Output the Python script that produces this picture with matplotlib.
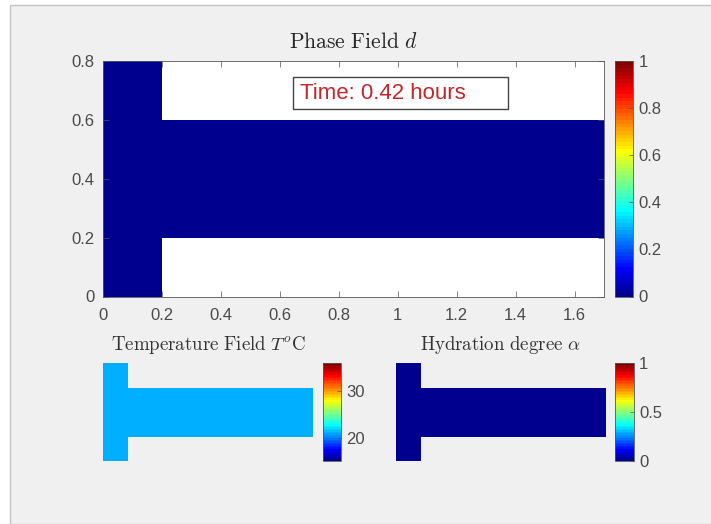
import numpy as np
import matplotlib
matplotlib.use('Agg')
from matplotlib import pyplot as plt
from matplotlib.colors import ListedColormap
from matplotlib.patches import Rectangle

# T-shaped domain: flange 0-0.2, web 0.2-1.7 between y=0.2 and 0.6
x_edges = [0.0, 0.2, 1.7]
y_edges = [0.0, 0.2, 0.6, 0.8]
nan = np.nan
phase_d = [[0.0, nan],
           [0.0, 0.0],
           [0.0, nan]]
temperature = [[21.0, nan],
               [21.0, 21.0],
               [21.0, nan]]
hydration = [[0.0, nan],
             [0.0, 0.0],
             [0.0, nan]]

d_ticks = [0, 0.2, 0.4, 0.6, 0.8, 1]
T_lim = (15, 36)
T_ticks = [20, 30]
a_ticks = [0, 0.5, 1]
x_ticks = [0, 0.2, 0.4, 0.6, 0.8, 1, 1.2, 1.4, 1.6]
y_ticks = [0, 0.2, 0.4, 0.6, 0.8]
time_hours = 0.42


def matlab_jet(m=64):
    n = int(np.ceil(m / 4))
    u = np.concatenate([np.arange(1, n + 1) / n, np.ones(n - 1), np.arange(n, 0, -1) / n])
    g = int(np.ceil(n / 2)) - int(m % 4 == 1) + np.arange(1, len(u) + 1)
    r = g + n
    b = g - n
    J = np.zeros((m, 3))
    J[r[r <= m] - 1, 0] = u[r <= m]
    J[g[g <= m] - 1, 1] = u[g <= m]
    J[b[b >= 1] - 1, 2] = u[b >= 1]
    return ListedColormap(J)


cmap = matlab_jet(64)
plt.rcParams['font.family'] = ['Liberation Sans', 'DejaVu Sans']
plt.rcParams['mathtext.fontset'] = 'cm'
tick_col = '#4a4a4a'
edge_col = '#555555'

W, H = 711, 524
fig = plt.figure(figsize=(W / 100, H / 100), dpi=100, facecolor='white')
fig.patches.append(Rectangle((10 / W, 0), 1, (H - 5) / H, transform=fig.transFigure,
                             facecolor='#f0f0f0', edgecolor='#c4c4c4', linewidth=1, zorder=-1))


def box(x0, y0, x1, y1):
    # pixel box (top-left origin) -> figure fraction
    return [x0 / W, (H - y1) / H, (x1 - x0) / W, (y1 - y0) / H]


def field(ax, vals, vmin, vmax):
    return ax.pcolormesh(x_edges, y_edges, np.ma.masked_invalid(np.array(vals)),
                         cmap=cmap, vmin=vmin, vmax=vmax, linewidth=0, antialiased=False)


def style_cbar(cax, mappable, ticks, labels):
    cb = fig.colorbar(mappable, cax=cax, ticks=ticks)
    cb.ax.set_yticklabels(labels)
    cb.outline.set_edgecolor(edge_col)
    cb.outline.set_linewidth(0.6)
    cb.ax.tick_params(direction='in', length=3, width=0.5, color=edge_col,
                      labelsize=12, labelcolor=tick_col, pad=4)
    return cb


# main phase field plot
ax = fig.add_axes(box(103, 61, 604, 296.5))
m = field(ax, phase_d, 0, 1)
ax.set_xlim(0, 1.7)
ax.set_ylim(0, 0.8)
ax.set_xticks(x_ticks)
ax.set_xticklabels(['0', '0.2', '0.4', '0.6', '0.8', '1', '1.2', '1.4', '1.6'])
ax.set_yticks(y_ticks)
ax.set_yticklabels(['0', '0.2', '0.4', '0.6', '0.8'])
ax.tick_params(direction='in', length=4, width=0.5, color=edge_col, top=True, right=True,
               labelsize=12, labelcolor=tick_col)
ax.tick_params(axis='x', pad=8)
ax.tick_params(axis='y', pad=6)
for s in ax.spines.values():
    s.set_edgecolor(edge_col)
    s.set_linewidth(0.6)
ax.set_title(r'$\mathrm{Phase\ Field}\ d$', fontsize=15.5, color='#262626', pad=9)
ax.add_patch(Rectangle((0.380, 0.796), 0.428, 0.136, transform=ax.transAxes,
                       facecolor='white', edgecolor='#444444', linewidth=1, zorder=5))
ax.text(0.394, 0.864, 'Time: %.2f hours' % time_hours, transform=ax.transAxes,
        fontsize=16, color='#c4262c', va='center', ha='left', zorder=6)

cax = fig.add_axes(box(615, 61, 633, 296.5))
style_cbar(cax, m, d_ticks, ['0', '0.2', '0.4', '0.6', '0.8', '1'])

# temperature field
ax_t = fig.add_axes(box(103, 363, 313, 461))
mt = field(ax_t, temperature, *T_lim)
ax_t.set_xlim(0, 1.7)
ax_t.set_ylim(0, 0.8)
ax_t.axis('off')
ax_t.set_title(r'$\mathrm{Temperature\ Field}\ T^{o}\mathrm{C}$', fontsize=13.6,
               color='#333333', pad=9)
cax_t = fig.add_axes(box(322.5, 363, 341, 461))
style_cbar(cax_t, mt, T_ticks, ['20', '30'])

# hydration degree
ax_a = fig.add_axes(box(396, 363, 605.5, 461))
ma = field(ax_a, hydration, 0, 1)
ax_a.set_xlim(0, 1.7)
ax_a.set_ylim(0, 0.8)
ax_a.axis('off')
ax_a.set_title(r'$\mathrm{Hydration\ degree}\ \alpha$', fontsize=13.6,
               color='#333333', pad=9)
cax_a = fig.add_axes(box(615, 363, 633.5, 461))
style_cbar(cax_a, ma, a_ticks, ['0', '0.5', '1'])

fig.savefig('out.png', dpi=100, facecolor=fig.get_facecolor())
